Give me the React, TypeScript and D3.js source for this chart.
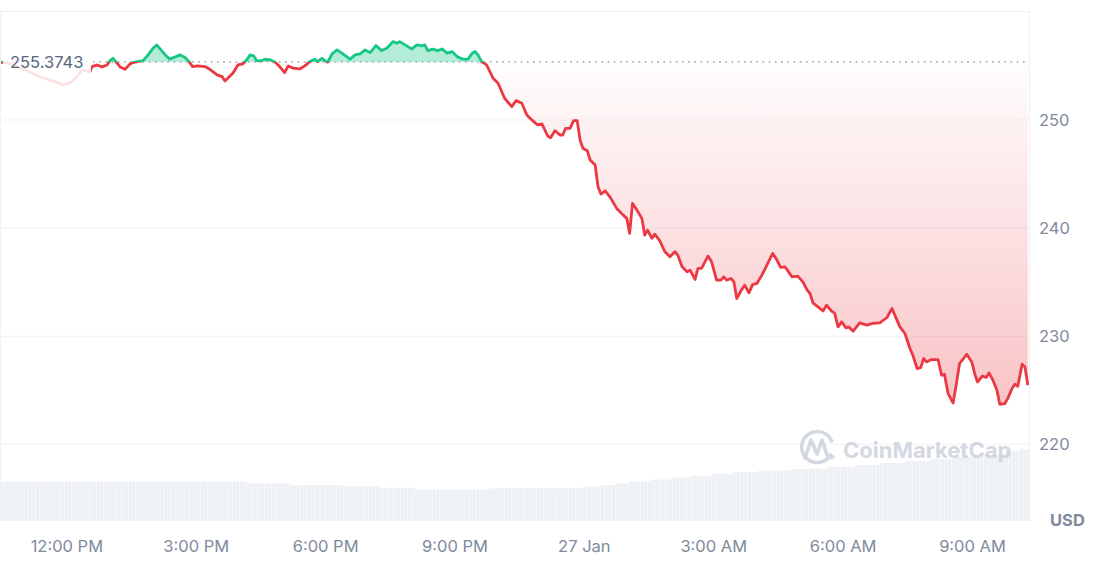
import React from "react";
import * as d3 from "d3";

// price samples: minutes after the window start, and price in USD
const startTime = new Date(2025, 0, 26, 10, 27);
const windowMinutes = 1433;
const baseline = 255.3743;

const minutes = [
  0, 14, 35, 56, 77, 88, 100, 115, 125, 128,
  135, 142, 149, 153, 157, 163, 167, 174, 181, 185,
  191, 199, 206, 213, 218, 223, 230, 236, 243, 250,
  257, 264, 268, 275, 285, 292, 302, 309, 313, 320,
  324, 331, 338, 344, 348, 353, 357, 362, 369, 376,
  383, 389, 396, 401, 408, 417, 424, 431, 438, 442,
  448, 452, 456, 462, 469, 477, 487, 494, 501, 508,
  515, 523, 531, 538, 547, 552, 556, 566, 573, 580,
  587, 591, 595, 602, 609, 615, 622, 629, 636, 644,
  651, 657, 661, 665, 670, 677, 686, 693, 702, 712,
  718, 726, 733, 741, 748, 754, 762, 766, 772, 779,
  783, 787, 793, 798, 803, 807, 811, 817, 821, 828,
  832, 836, 842, 849, 858, 867, 872, 876, 880, 886,
  893, 897, 901, 907, 911, 918, 925, 932, 939, 943,
  949, 956, 960, 967, 971, 976, 985, 990, 997, 1003,
  1007, 1011, 1017, 1021, 1025, 1032, 1036, 1042, 1047, 1053,
  1060, 1067, 1075, 1081, 1086, 1092, 1102, 1110, 1117, 1123,
  1127, 1131, 1138, 1145, 1150, 1157, 1161, 1166, 1171, 1177,
  1181, 1187, 1196, 1206, 1214, 1224, 1234, 1241, 1246, 1252,
  1259, 1266, 1270, 1276, 1281, 1285, 1289, 1296, 1305, 1310,
  1314, 1319, 1326, 1331, 1335, 1345, 1352, 1356, 1360, 1367,
  1372, 1376, 1381, 1387, 1391, 1398, 1402, 1408, 1412, 1416,
  1422, 1426, 1430,
];

const prices = [
  255.37, 255.19, 254.63, 253.98, 253.52, 253.24, 253.52, 254.63, 254.44, 254.94,
  255.09, 254.91, 255.09, 255.49, 255.71, 255.25, 254.91, 254.69, 255.19, 255.31,
  255.4, 255.49, 256.02, 256.64, 256.94, 256.55, 256.02, 255.62, 255.81, 256.02,
  255.81, 255.31, 254.94, 255.0, 254.94, 254.69, 254.17, 254.01, 253.61, 254.07,
  254.32, 255.09, 255.19, 255.62, 256.02, 255.93, 255.49, 255.46, 255.62, 255.56,
  255.34, 254.94, 254.38, 255.0, 254.79, 254.72, 255.0, 255.4, 255.62, 255.4,
  255.71, 255.49, 255.35, 256.11, 256.48, 256.11, 255.62, 256.02, 256.11, 256.48,
  256.23, 256.88, 256.42, 256.64, 257.25, 257.1, 257.25, 256.85, 256.57, 256.94,
  256.85, 256.94, 256.42, 256.55, 256.42, 256.57, 256.18, 256.33, 255.86, 255.62,
  255.62, 256.18, 256.33, 256.02, 255.4, 255.09, 253.86, 253.4, 252.01, 251.23,
  251.79, 251.55, 250.46, 249.94, 249.54, 249.63, 248.52, 248.36, 249.01, 248.61,
  248.61, 249.23, 249.23, 249.94, 249.94, 248.15, 247.38, 247.16, 246.3, 245.83,
  243.82, 243.15, 243.45, 242.84, 241.82, 241.2, 240.9, 239.51, 242.29, 241.67,
  240.9, 239.35, 239.81, 239.05, 239.44, 238.82, 237.81, 237.34, 237.81, 237.5,
  236.42, 235.95, 236.11, 235.25, 236.27, 236.27, 237.41, 236.88, 235.19, 235.19,
  235.49, 235.19, 235.34, 235.03, 233.49, 234.32, 234.72, 234.01, 234.77, 234.88,
  235.65, 236.57, 237.66, 237.04, 236.36, 236.42, 235.49, 235.56, 235.03, 234.26,
  233.95, 233.08, 232.71, 232.34, 232.87, 232.31, 232.16, 230.86, 231.32, 230.77,
  230.86, 230.46, 231.23, 231.02, 231.18, 231.23, 231.73, 232.56, 231.79, 230.86,
  230.25, 228.86, 228.24, 227.01, 227.1, 227.94, 227.62, 227.84, 227.84, 226.39,
  226.48, 224.69, 223.82, 225.77, 227.47, 228.33, 227.62, 226.55, 225.77, 226.32,
  226.18, 226.6, 225.99, 225.0, 223.7, 223.77, 224.23, 225.16, 225.56, 225.37,
  227.41, 227.16, 225.46,
];

// 24h volume (billion USD), run-length encoded: level and number of 5-min bars
const volumeLevels = [
  5.36, 5.14, 4.9, 4.76, 4.52, 4.3, 4.44, 4.66, 4.9, 5.11,
  5.39, 5.67, 5.95, 6.16, 6.44, 6.72, 6.93, 7.14, 7.42, 7.7,
  7.98, 8.26, 8.54, 8.82, 9.17, 9.66, 9.9,
];
const volumeCounts = [
  69, 12, 15, 10, 10, 21, 26, 5, 4, 4,
  6, 6, 5, 6, 6, 7, 9, 10, 8, 7,
  7, 7, 7, 7, 7, 4, 3,
];

const priceTicks = [220, 230, 240, 250];

const GREEN = "#16C784";
const RED = "#EA3943";
const GRID = "#EFF2F5";
const LABEL = "#808A9D";

const W = 1095;
const H = 562;
const plot = { left: 0, right: 1030, top: 11, bottom: 520 };

export default function App() {
  const endTime = new Date(startTime.getTime() + windowMinutes * 60000);
  const x = d3.scaleTime().domain([startTime, endTime]).range([plot.left, plot.right]);
  const y = d3.scaleLinear().domain([213, 260.08]).range([plot.bottom, plot.top]);

  const points = minutes.map((m, i) => ({
    t: new Date(startTime.getTime() + m * 60000),
    v: prices[i],
  }));

  const volumes = volumeLevels.flatMap((v, i) => d3.range(volumeCounts[i]).map(() => v));
  const xBar = d3
    .scaleBand<number>()
    .domain(d3.range(volumes.length))
    .range([plot.left, plot.right])
    .paddingInner(0.12);
  const yVol = d3.scaleLinear().domain([0, 14]).range([plot.bottom, plot.bottom - 100]);

  const yBase = y(baseline);

  const line = d3
    .line<{ t: Date; v: number }>()
    .x((d) => x(d.t))
    .y((d) => y(d.v));
  const area = d3
    .area<{ t: Date; v: number }>()
    .x((d) => x(d.t))
    .y0(yBase)
    .y1((d) => y(d.v));

  const timeTicks = x.ticks(d3.timeHour.every(3)!);
  const fmtHour = d3.timeFormat("%-I:%M %p");
  const fmtDay = d3.timeFormat("%-d %b");
  const tickLabel = (d: Date) => (d.getHours() === 0 ? fmtDay(d) : fmtHour(d));

  const linePath = line(points) || "";
  const areaPath = area(points) || "";
  const minY = y(d3.min(prices) as number);

  return (
    <svg
      width={W}
      height={H}
      style={{ position: "absolute", left: 0, top: 0, fontFamily: "Inter, 'Noto Sans', sans-serif" }}
    >
      <defs>
        <clipPath id="above">
          <rect x={0} y={0} width={W} height={yBase} />
        </clipPath>
        <clipPath id="below">
          <rect x={0} y={yBase} width={W} height={H - yBase} />
        </clipPath>
        <linearGradient id="redFill" gradientUnits="userSpaceOnUse" x1={0} y1={yBase} x2={0} y2={minY}>
          <stop offset="0%" stopColor={RED} stopOpacity={0.01} />
          <stop offset="100%" stopColor={RED} stopOpacity={0.3} />
        </linearGradient>
      </defs>

      {/* grid */}
      {priceTicks.map((t) => (
        <line key={t} x1={plot.left} x2={plot.right} y1={y(t)} y2={y(t)} stroke={GRID} strokeWidth={1} />
      ))}

      {/* volume bars */}
      {volumes.map((v, i) => (
        <rect
          key={i}
          x={xBar(i)}
          y={yVol(v)}
          width={xBar.bandwidth()}
          height={plot.bottom - yVol(v)}
          fill="#EDF0F4"
        />
      ))}

      {/* area fills */}
      <path d={areaPath} fill={GREEN} fillOpacity={0.32} clipPath="url(#above)" />
      <path d={areaPath} fill="url(#redFill)" clipPath="url(#below)" />

      {/* reference price */}
      <line
        x1={plot.left}
        x2={plot.right}
        y1={yBase}
        y2={yBase}
        stroke="#A6ADBE"
        strokeWidth={1.6}
        strokeDasharray="1.6 4.6"
      />

      {/* price line */}
      <path d={linePath} fill="none" stroke={GREEN} strokeWidth={2.8} strokeLinejoin="round" clipPath="url(#above)" />
      <path d={linePath} fill="none" stroke={RED} strokeWidth={2.8} strokeLinejoin="round" clipPath="url(#below)" />

      {/* baseline label */}
      <rect x={3} y={47} width={88} height={45} rx={4} fill="#fff" fillOpacity={0.86} />
      <text x={10} y={yBase} dy="0.35em" fontSize={16.5} fill="#58667E">
        {baseline.toFixed(4)}
      </text>

      {/* watermark */}
      <g opacity={0.8} fill="none" stroke="#C9CFDA" strokeWidth={3.6} strokeLinecap="round" strokeLinejoin="round">
        <path d="M830.5,455 A15.5,15.5 0 1 1 831.5,441" />
        <path d="M805,458 L811,440 L817,454 L822,440 L827,455 Q829,459 833,457" />
      </g>
      <text x={843} y={458} fontSize={22} fontWeight={700} fill="#C9CFDA" opacity={0.8}>
        CoinMarketCap
      </text>

      {/* plot frame */}
      <rect
        x={plot.left + 0.5}
        y={plot.top + 0.5}
        width={plot.right - plot.left - 1}
        height={plot.bottom - plot.top}
        fill="none"
        stroke={GRID}
        strokeWidth={1}
      />

      {/* y axis */}
      {priceTicks.map((t) => (
        <text key={t} x={1039} y={y(t)} dy="0.35em" fontSize={16.5} fill={LABEL}>
          {t}
        </text>
      ))}
      <text x={1050} y={plot.bottom} dy="0.35em" fontSize={16.5} fontWeight={700} fill={LABEL}>
        USD
      </text>

      {/* x axis */}
      {timeTicks.map((d) => (
        <text key={d.getTime()} x={x(d)} y={546} dy="0.35em" fontSize={16.5} fill={LABEL} textAnchor="middle">
          {tickLabel(d)}
        </text>
      ))}
    </svg>
  );
}
